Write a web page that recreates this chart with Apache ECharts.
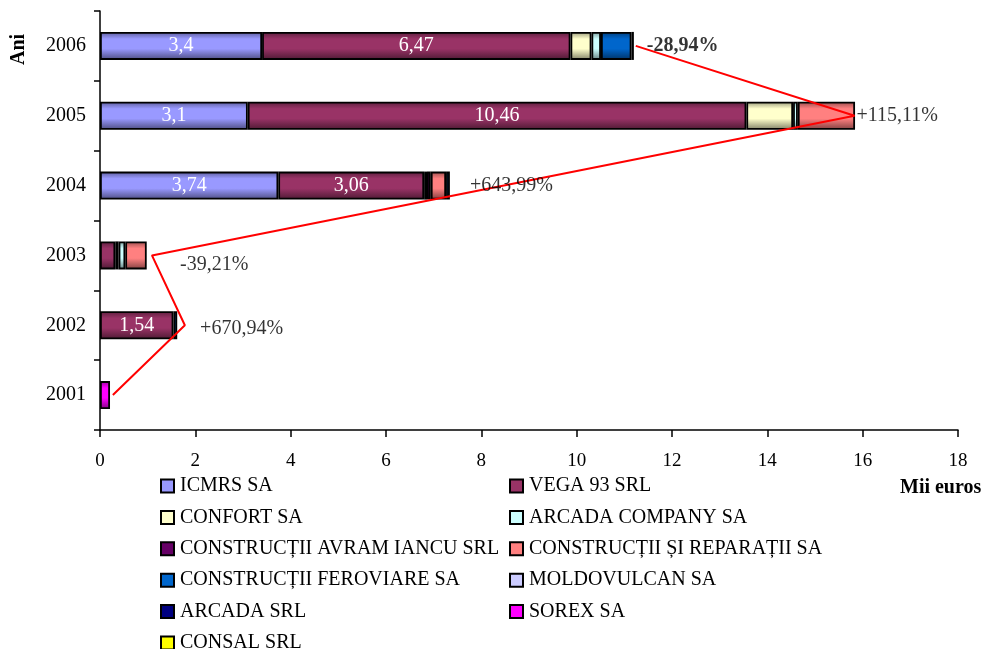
<!DOCTYPE html>
<html><head><meta charset="utf-8">
<script src="https://cdn.jsdelivr.net/npm/echarts@6/dist/echarts.min.js"></script>
<style>html,body{margin:0;padding:0;background:#fff}#c{width:987px;height:649px}</style>
</head><body><div id="c"></div>
<script>
const years = ['2001','2002','2003','2004','2005','2006'];
const seriesNames = ['ICMRS SA','VEGA 93 SRL','CONFORT SA','ARCADA COMPANY SA','CONSTRUCȚII AVRAM IANCU SRL','CONSTRUCȚII ȘI REPARAȚII SA','CONSTRUCȚII FEROVIARE SA','MOLDOVULCAN SA','ARCADA SRL','SOREX SA','CONSAL SRL'];
const icmrs      = [0, 0, 0, 3.74, 3.1, 3.4];
const vega       = [0, 1.54, 0.32, 3.06, 10.46, 6.47];
const confort    = [0, 0, 0.07, 0, 0.98, 0.44];
const arcadaCo   = [0, 0, 0.14, 0.06, 0.1, 0.2];
const avram      = [0, 0, 0, 0.08, 0, 0];
const reparatii  = [0, 0, 0.45, 0.32, 1.2, 0];
const feroviare  = [0, 0.08, 0, 0.08, 0, 0.64];
const moldovulcan= [0, 0, 0, 0, 0, 0];
const arcadaSrl  = [0, 0, 0, 0, 0, 0.05];
const sorex      = [0.21, 0, 0, 0, 0, 0];
const consal     = [0, 0, 0, 0, 0, 0];
const allValues = [icmrs, vega, confort, arcadaCo, avram, reparatii, feroviare, moldovulcan, arcadaSrl, sorex, consal];
const colors = ['#9999FF','#993366','#FFFFCC','#CCFFFF','#660066','#FF8080','#0066CC','#CCCCFF','#000080','#FF00FF','#FFFF00'];
// red trend line vertices (value, year); 2004 not a vertex
const trendX = [0.27, 1.78, 1.09, 15.83, 11.24];
const trendYear = ['2001','2002','2003','2005','2006'];
// growth labels
const growthText = ['+670,94%','-39,21%','+643,99%','+115,11%','-28,94%'];
const growthYear = ['2002','2003','2004','2005','2006'];
const growthX = [2.1, 1.68, 7.76, 15.87, 11.47];
const xTicks = [0, 18, 2];

function shade(hex, f){
  const n = parseInt(hex.slice(1),16);
  let r=(n>>16)&255,g=(n>>8)&255,b=n&255;
  r=Math.round(r*f);g=Math.round(g*f);b=Math.round(b*f);
  return 'rgb('+r+','+g+','+b+')';
}
function grad(c){
  return new echarts.graphic.LinearGradient(0,0,0,1,[
    {offset:0,color:shade(c,0.6)},{offset:0.25,color:c},{offset:0.6,color:c},{offset:1,color:shade(c,0.5)}]);
}
const FONT = '"Liberation Serif","Times New Roman",serif';

const series = seriesNames.map((name,i)=>({
  name, type:'bar', stack:'t', barWidth:28,
  data: allValues[i].map(v=> v ? v : null),
  itemStyle:{color:grad(colors[i]), borderColor:'#000', borderWidth:1.8},
  label:{show: i<2, position:'inside', color:'#fff', fontFamily:FONT, fontSize:20,
    formatter:p=> (p.value && p.value>1) ? String(p.value).replace('.',',') : ''},
  emphasis:{disabled:true}
}));
series.push({
  type:'line', name:'trend', data: trendX.map((x,i)=>[x, trendYear[i]]),
  showSymbol:false, symbol:'none', lineStyle:{color:'#FF0000', width:2}, z:10, silent:true
});
series.push({
  type:'scatter', name:'growth', symbolSize:0, z:11, silent:true,
  data: growthX.map((x,i)=>({value:[x, growthYear[i]],
    label:{show:true, position:'right', distance:0, formatter:growthText[i],
      color:'#000', fontFamily:FONT, fontSize:20,
      fontWeight: growthYear[i]==='2006' ? 'bold':'normal',
      offset: growthYear[i]==='2003' ? [0,9] : (growthYear[i]==='2002' ? [0,3] : [0,0])}}))
});

// legend: two columns, row-major order
const legends = seriesNames.map((name,i)=>({
  left: (i%2===0) ? 160 : 509,
  top: 476 + Math.floor(i/2)*31.4,
  padding:0, icon:'rect', itemWidth:13, itemHeight:13, selectedMode:false,
  textStyle:{fontFamily:FONT, fontSize:20, color:'#000', padding:[0,0,0,1]},
  data:[{name, itemStyle:{color:colors[i], borderColor:'#000', borderWidth:2}}]
}));

const chart = echarts.init(document.getElementById('c'), null, {renderer:'canvas'});
chart.setOption({
  animation:false,
  backgroundColor:'#fff',
  grid:{left:100, right:29, top:11, bottom:219, containLabel:false},
  xAxis:{type:'value', min:xTicks[0], max:xTicks[1], interval:xTicks[2],
    axisLine:{show:true, lineStyle:{color:'#000', width:1.5}},
    axisTick:{show:true, length:7, lineStyle:{color:'#000', width:1.5}},
    splitLine:{show:false},
    axisLabel:{color:'#000', fontFamily:FONT, fontSize:19, margin:22}},
  yAxis:{type:'category', data:years,
    axisLine:{show:true, lineStyle:{color:'#000', width:1.5}},
    axisTick:{show:true, length:6, lineStyle:{color:'#000', width:1.5}},
    axisLabel:{color:'#000', fontFamily:FONT, fontSize:20, margin:14}},
  legend: legends,
  graphic:[
    {type:'text', left:900, top:478, style:{text:'Mii euros', font:'bold 20px '+FONT, fill:'#000'}},
    {type:'text', x:9, y:65, rotation:Math.PI/2, style:{text:'Ani', font:'bold 20px '+FONT, fill:'#000'}}
  ],
  series
});
</script></body></html>
